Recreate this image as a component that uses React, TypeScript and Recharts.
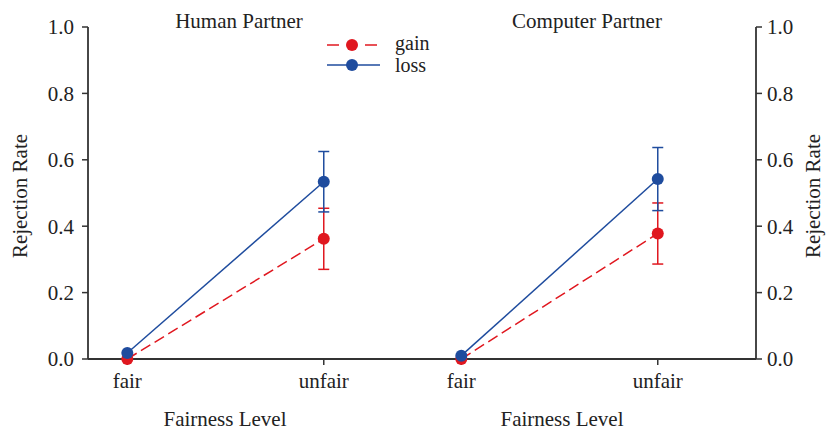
import React from 'react';
import { LineChart, Line, XAxis, YAxis, ErrorBar } from 'recharts';

const categories = ['fair', 'unfair'];

const humanGain = [0.0, 0.362];
const humanGainErr = [0, 0.092];
const humanLoss = [0.018, 0.534];
const humanLossErr = [0, 0.091];

const computerGain = [0.0, 0.378];
const computerGainErr = [0, 0.092];
const computerLoss = [0.01, 0.542];
const computerLossErr = [0, 0.095];

const yTicks = [0, 0.2, 0.4, 0.6, 0.8, 1.0];

const RED = '#e0171f';
const BLUE = '#1f4c9e';
const AXIS = '#333';
const FONT = '"Liberation Serif", "Times New Roman", serif';

// the two panels share one numeric x axis; the computer panel is shifted right
const PANEL_SHIFT = 1.7;

const rows = (values: number[], errs: number[], shift: number) =>
  values.map((v, i) => ({ x: i + shift, y: v, err: errs[i] }));

const xTicks = [0, 1, PANEL_SHIFT, 1 + PANEL_SHIFT];
const xLabel = (v: number) => categories[Math.round(v >= PANEL_SHIFT ? v - PANEL_SHIFT : v)];

const tickStyle = { fill: '#222', fontSize: 21, fontFamily: FONT };

const App: React.FC = () => {
  // human panel reads off the left axis, computer panel off the right one
  const series = [
    { key: 'hg', axis: 'left', data: rows(humanGain, humanGainErr, 0), color: RED, dash: '11 5' },
    { key: 'cg', axis: 'right', data: rows(computerGain, computerGainErr, PANEL_SHIFT), color: RED, dash: '11 5' },
    { key: 'hl', axis: 'left', data: rows(humanLoss, humanLossErr, 0), color: BLUE, dash: undefined },
    { key: 'cl', axis: 'right', data: rows(computerLoss, computerLossErr, PANEL_SHIFT), color: BLUE, dash: undefined },
  ];

  return (
    <div style={{ position: 'absolute', left: 0, top: 0, width: 826, height: 430, background: '#fff' }}>
      <LineChart width={826} height={430} margin={{ top: 27, right: 0, bottom: 31, left: 0 }}>
        <XAxis
          type="number"
          dataKey="x"
          domain={[-0.2, 3.2]}
          ticks={xTicks}
          tickFormatter={xLabel}
          height={40}
          tickSize={6}
          tickMargin={8}
          axisLine={{ stroke: AXIS, strokeWidth: 1.8 }}
          tickLine={{ stroke: AXIS, strokeWidth: 1.5 }}
          tick={tickStyle}
        />
        <YAxis
          yAxisId="left"
          domain={[0, 1]}
          ticks={yTicks}
          tickFormatter={(v: number) => v.toFixed(1)}
          width={88}
          tickSize={6}
          tickMargin={8}
          axisLine={{ stroke: AXIS, strokeWidth: 1.8 }}
          tickLine={{ stroke: AXIS, strokeWidth: 1.5 }}
          tick={tickStyle}
        />
        <YAxis
          yAxisId="right"
          orientation="right"
          domain={[0, 1]}
          ticks={yTicks}
          tickFormatter={(v: number) => v.toFixed(1)}
          width={70}
          tickSize={6}
          tickMargin={5}
          axisLine={{ stroke: AXIS, strokeWidth: 1.8 }}
          tickLine={{ stroke: AXIS, strokeWidth: 1.5 }}
          tick={tickStyle}
        />
        {series.map((s) => (
          <Line
            key={s.key}
            yAxisId={s.axis}
            data={s.data}
            dataKey="y"
            stroke={s.color}
            strokeWidth={1.5}
            strokeDasharray={s.dash}
            dot={{ r: 6, fill: s.color, stroke: s.color, strokeWidth: 0 }}
            activeDot={false}
            isAnimationActive={false}
          >
            <ErrorBar dataKey="err" width={5.5} stroke={s.color} strokeWidth={1.5} direction="y" />
          </Line>
        ))}
      </LineChart>

      <svg
        width={826}
        height={430}
        style={{ position: 'absolute', left: 0, top: 0, pointerEvents: 'none' }}
        fontFamily={FONT}
        fill="#222"
      >
        <text x={239} y={28} fontSize={21} textAnchor="middle">Human Partner</text>
        <text x={587} y={28} fontSize={21} textAnchor="middle">Computer Partner</text>
        <text x={225} y={426} fontSize={21} textAnchor="middle">Fairness Level</text>
        <text x={562} y={426} fontSize={21} textAnchor="middle">Fairness Level</text>
        <text x={0} y={0} fontSize={21} textAnchor="middle" transform="translate(27,196) rotate(-90)">
          Rejection Rate
        </text>
        <text x={0} y={0} fontSize={21} textAnchor="middle" transform="translate(820,196) rotate(-90)">
          Rejection Rate
        </text>

        {/* legend */}
        <line x1={327} y1={45} x2={339} y2={45} stroke={RED} strokeWidth={1.5} />
        <line x1={365} y1={45} x2={377} y2={45} stroke={RED} strokeWidth={1.5} />
        <circle cx={352} cy={45} r={6} fill={RED} />
        <text x={395} y={50} fontSize={20}>gain</text>
        <line x1={327} y1={65} x2={380} y2={65} stroke={BLUE} strokeWidth={1.5} />
        <circle cx={352} cy={65} r={6} fill={BLUE} />
        <text x={395} y={72} fontSize={20}>loss</text>
      </svg>
    </div>
  );
};

export default App;
